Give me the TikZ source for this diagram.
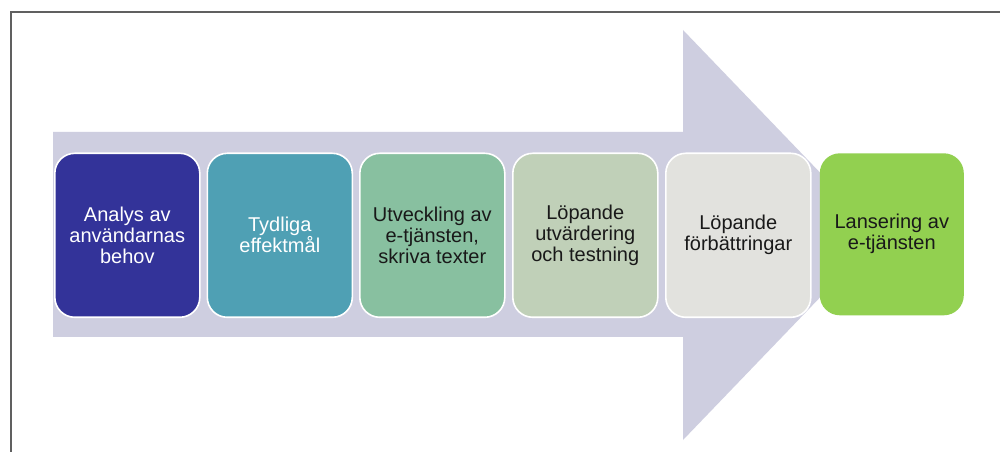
\documentclass[tikz,border=0pt]{standalone}
\usepackage{fontspec}
\setmainfont{Liberation Sans}
\definecolor{arrowc}{RGB}{206,206,224}
\definecolor{cA}{RGB}{51,51,153}
\definecolor{cB}{RGB}{79,160,180}
\definecolor{cC}{RGB}{136,192,160}
\definecolor{cD}{RGB}{192,208,184}
\definecolor{cE}{RGB}{226,226,222}
\definecolor{cF}{RGB}{146,208,80}
\definecolor{framec}{RGB}{96,96,96}
\begin{document}
\begin{tikzpicture}[x=0.75pt,y=-0.75pt,
  stepbox/.style={rounded corners=15pt, minimum width=108.75pt, minimum height=123pt,
    draw=white, line width=1.2pt, align=center, inner sep=0pt,
    font=\fontsize{15}{15.75}\selectfont, anchor=north west},
  lighttext/.style={text=white},
  darktext/.style={text=black!90}]
\useasboundingbox (0,0) rectangle (1000,452);
\fill[white] (0,0) rectangle (1000,452);
% frame
\draw[framec, line width=1.2pt] (11,452) -- (11,12) -- (1000,12);
% big arrow
\fill[arrowc] (53,132) -- (683,132) -- (683,30) -- (880,235) -- (683,440) -- (683,337) -- (53,337) -- cycle;
% boxes
\node[stepbox, fill=cA, lighttext] (s1) at (54,152.5) {Analys av\\användarnas\\behov};
\node[stepbox, fill=cB, lighttext] (s2) at (206.5,152.5) {Tydliga\\effektmål};
\node[stepbox, fill=cC, darktext] (s3) at (359,152.5) {Utveckling av\\e-tjänsten,\\skriva texter};
\node[stepbox, fill=cD, darktext] (s4) at (512,152.5) {Löpande\\utvärdering\\och testning};
\node[stepbox, fill=cE, darktext] (s5) at (665,152.5) {Löpande\\förbättringar};
\node[stepbox, fill=cF, darktext, draw=none, minimum height=121.5pt, minimum width=108pt] (s6) at (819,152.5) {Lansering av\\e-tjänsten};
\end{tikzpicture}
\end{document}
